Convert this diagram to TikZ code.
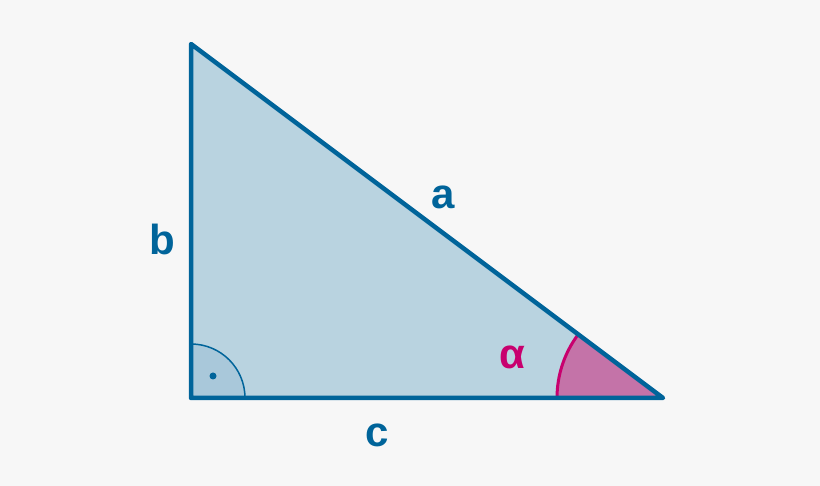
\documentclass[tikz,border=0pt]{standalone}
\usepackage{fontspec}
\setmainfont{Liberation Sans}
\definecolor{bg}{HTML}{F7F7F7}
\definecolor{edge}{HTML}{00649A}
\definecolor{tri}{HTML}{B9D3E0}
\definecolor{rightfill}{HTML}{A9C8DA}
\definecolor{mag}{HTML}{C8006E}
\definecolor{magfill}{HTML}{C473A8}
\begin{document}
\begin{tikzpicture}[x=1pt,y=-1pt,
  lbl/.style={font=\fontsize{42}{42}\selectfont\bfseries, inner sep=0pt}]
\fill[bg] (0,0) rectangle (820,486);
\useasboundingbox (0,0) rectangle (820,486);
\coordinate (A) at (191,44);
\coordinate (C) at (191,398);
\coordinate (B) at (663,398);
\fill[tri] (A) -- (C) -- (B) -- cycle;
% right angle
\fill[rightfill] (C) -- ++(54,0) arc[start angle=0, end angle=-90, radius=54] -- cycle;
\draw[edge, line width=1.5pt] (C) ++(54,0) arc[start angle=0, end angle=-90, radius=54];
\fill[edge] (213,376) circle (3.5);
% alpha
\pgfmathsetmacro{\ang}{atan2(354,472)}
\fill[magfill] (B) -- ++(-106,0) arc[start angle=180, end angle={180+\ang}, radius=106] -- cycle;
\draw[mag, line width=3pt] (B) ++(-106,0) arc[start angle=180, end angle={180+\ang}, radius=106];
\draw[edge, line width=4.5pt, line join=round, line cap=round] (A) -- (C) -- (B) -- cycle;
\node[lbl, text=edge] (la) at (443,197) {a};
\node[lbl, text=edge] (lb) at (162,239) {b};
\node[lbl, text=edge] (lc) at (377,435) {c};
\node[lbl, text=mag] (lal) at (512,357) {α};
\end{tikzpicture}
\end{document}
